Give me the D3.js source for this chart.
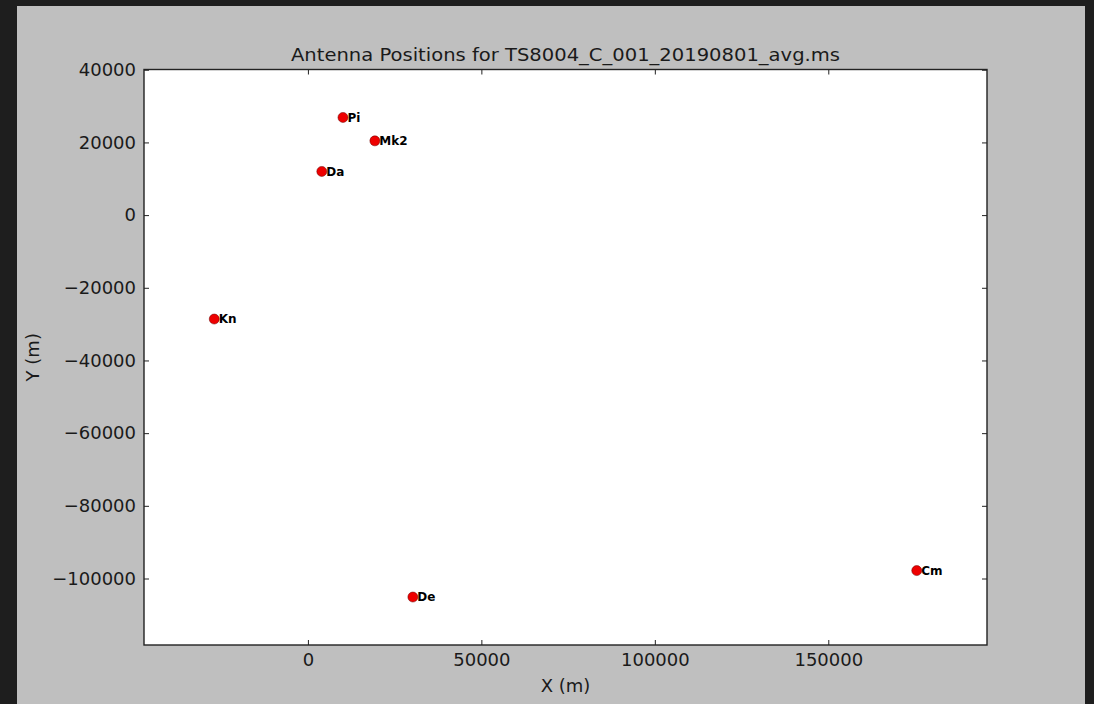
<!DOCTYPE html>
<html>
<head>
<meta charset="utf-8">
<script src="https://cdn.jsdelivr.net/npm/d3@7"></script>
<style>
  html, body { margin: 0; padding: 0; background: #1e1e1e; }
  svg { display: block; }
  text { font-family: "DejaVu Sans", sans-serif; }
</style>
</head>
<body>
<script>
// Antenna names and their local X / Y offsets in metres
const stations = ["Pi", "Mk2", "Da", "Kn", "De", "Cm"];
const xPos = [10100, 19300, 4000, -27000, 30250, 175500];
const yPos = [26870, 20430, 12020, -28600, -105100, -97820];

const xTicks = [0, 50000, 100000, 150000];
const yTicks = [40000, 20000, 0, -20000, -40000, -60000, -80000, -100000];

const titleText = "Antenna Positions for TS8004_C_001_20190801_avg.ms";
const xLabel = "X (m)";
const yLabel = "Y (m)";

const W = 1094, H = 704;
const panel = { x: 17, y: 6, w: 1068, h: 698 };
const plot = { left: 144, top: 69.5, right: 987, bottom: 645 };

const svg = d3.select("body").append("svg")
  .attr("width", W).attr("height", H);

svg.append("rect")
  .attr("x", panel.x).attr("y", panel.y)
  .attr("width", panel.w).attr("height", panel.h)
  .attr("fill", "#bfbfbf");

// Limits: data extent padded by 10% of the range on each side
function padded(vals) {
  const [lo, hi] = d3.extent(vals);
  const pad = (hi - lo) * 0.1;
  return [lo - pad, hi + pad];
}

const x = d3.scaleLinear().domain(padded(xPos)).range([plot.left, plot.right]);
const y = d3.scaleLinear().domain(padded(yPos)).range([plot.bottom, plot.top]);

svg.append("rect")
  .attr("x", plot.left).attr("y", plot.top)
  .attr("width", plot.right - plot.left).attr("height", plot.bottom - plot.top)
  .attr("fill", "#ffffff");

const fmt = d3.format("d");
const tickLen = 5;

// Inward ticks on all four sides
function styleAxis(g) {
  g.select(".domain").remove();
  g.selectAll(".tick line").attr("stroke", "#222").attr("stroke-width", 1);
  g.selectAll(".tick text").attr("fill", "#1a1a1a")
    .style("font-size", "18px").style("font-family", "DejaVu Sans, sans-serif");
}

const xb = svg.append("g").attr("transform", `translate(0,${plot.bottom})`)
  .call(d3.axisBottom(x).tickValues(xTicks).tickFormat(fmt).tickSizeInner(-tickLen).tickSizeOuter(0).tickPadding(10));
styleAxis(xb);
xb.selectAll(".tick text").attr("dy", "0.75em").attr("y", 7);

const xt = svg.append("g").attr("transform", `translate(0,${plot.top})`)
  .call(d3.axisTop(x).tickValues(xTicks).tickFormat("").tickSizeInner(-tickLen).tickSizeOuter(0));
styleAxis(xt);

const yl = svg.append("g").attr("transform", `translate(${plot.left},0)`)
  .call(d3.axisLeft(y).tickValues(yTicks).tickFormat(fmt).tickSizeInner(-tickLen).tickSizeOuter(0).tickPadding(8));
styleAxis(yl);
yl.selectAll(".tick text").attr("x", -8);

const yr = svg.append("g").attr("transform", `translate(${plot.right},0)`)
  .call(d3.axisRight(y).tickValues(yTicks).tickFormat("").tickSizeInner(-tickLen).tickSizeOuter(0));
styleAxis(yr);

// Frame
svg.append("rect")
  .attr("x", plot.left).attr("y", plot.top)
  .attr("width", plot.right - plot.left).attr("height", plot.bottom - plot.top)
  .attr("fill", "none").attr("stroke", "#222").attr("stroke-width", 1.4);

// Antenna markers and name labels
const data = stations.map((s, i) => ({ name: s, x: xPos[i], y: yPos[i] }));

const pts = svg.append("g");
pts.selectAll("circle").data(data).join("circle")
  .attr("cx", d => x(d.x)).attr("cy", d => y(d.y))
  .attr("r", 5)
  .attr("fill", "#ee0000")
  .attr("stroke", "#600").attr("stroke-width", 0.5);

pts.selectAll("text").data(data).join("text")
  .attr("x", d => x(d.x) + 4.5).attr("y", d => y(d.y))
  .attr("dy", "0.36em")
  .style("font-size", "12px").style("font-weight", "bold")
  .attr("fill", "#000")
  .text(d => d.name);

// Title and axis labels
svg.append("text")
  .attr("x", (plot.left + plot.right) / 2).attr("y", 61)
  .attr("text-anchor", "middle")
  .style("font-size", "18px").attr("fill", "#1a1a1a")
  .attr("textLength", 549).attr("lengthAdjust", "spacingAndGlyphs")
  .text(titleText);

svg.append("text")
  .attr("x", (plot.left + plot.right) / 2).attr("y", 692)
  .attr("text-anchor", "middle")
  .style("font-size", "18px").attr("fill", "#1a1a1a")
  .text(xLabel);

svg.append("text")
  .attr("transform", `translate(39,${(plot.top + plot.bottom) / 2}) rotate(-90)`)
  .attr("text-anchor", "middle")
  .style("font-size", "18px").attr("fill", "#1a1a1a")
  .text(yLabel);
</script>
</body>
</html>
